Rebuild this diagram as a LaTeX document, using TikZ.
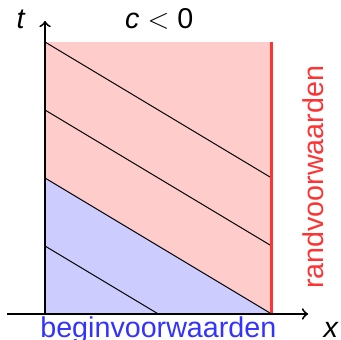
\documentclass[tikz,border=0pt]{standalone}
\usepackage{fontspec}
\setmainfont{Liberation Sans}
\begin{document}
\begin{tikzpicture}[font=\fontsize{12}{14}\selectfont]
    \useasboundingbox (-0.662,-0.382) rectangle (4.353,4.618);
    \fill[red!20] (0,0) rectangle (10/3,4);
    \fill[blue!20] (0,0) -- (10/3,0) -- (0,2) -- cycle;
    \draw (0,1) -- (5/3,0);
    \draw (0,2) -- (10/3,0);
    \draw (0,3) -- (10/3,1);
    \draw (0,4) -- (10/3,2);
    \draw[blue!80, line width=1pt] (0,0) -- (10/3,0);
    \draw[red!80, line width=1pt] (10/3,0) -- (10/3,4);
    \draw[->, thick] (-0.56,0) -- (3.87,0);
    \draw[->, thick] (0,0) -- (0,4.31);
    \node[anchor=base] (tlabel) at (-0.35,4.2) {\textit{t}};
    \node[anchor=base] (xlabel) at (4.21,-0.34) {\textit{x}};
    \node[anchor=base] (title) at (1.68,4.2) {\textit{c} $<$ 0};
    \node[anchor=base, blue!80] (begin) at (5/3,-0.34) {beginvoorwaarden};
    \node[rotate=90, red!80] (rand) at (3.94,2.01) {randvoorwaarden};
\end{tikzpicture}
\end{document}
